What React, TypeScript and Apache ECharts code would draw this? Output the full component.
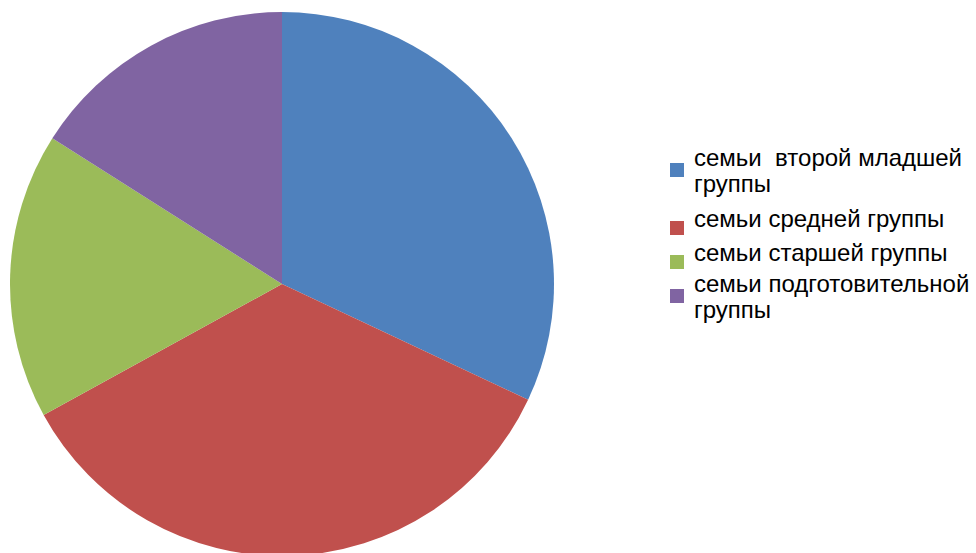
import React, { useEffect, useRef } from "react";
import * as echarts from "echarts";

const categories = [
  "семьи  второй младшей\nгруппы",
  "семьи средней группы",
  "семьи старшей группы",
  "семьи подготовительной\nгруппы",
];
const values = [32, 35, 17, 16];
const colors = ["#4F81BD", "#C0504D", "#9BBB59", "#8064A2"];

const legendTops = [144, 201, 235, 270];

export default function App() {
  const ref = useRef<HTMLDivElement>(null);
  useEffect(() => {
    document.body.style.margin = "0";
    const chart = echarts.init(ref.current!, null, { renderer: "svg" });
    const legends = categories.map((name, i) => {
      const multiLine = name.indexOf("\n") >= 0;
      return {
        orient: "vertical",
        left: 670,
        top: legendTops[i],
        padding: 0,
        itemWidth: 14,
        itemHeight: multiLine ? 14 : 34,
        icon: multiLine
          ? "rect"
          : "path://M0,0L0.01,0M0,20L14,20L14,34L0,34Z",
        itemStyle: { borderWidth: 0 },
        selectedMode: false,
        textStyle: {
          fontFamily: "Liberation Sans, Arial, sans-serif",
          fontSize: 24,
          lineHeight: 26,
          color: "#000000",
          padding: [0, 0, 0, 5],
        },
        data: [name],
      };
    });
    chart.setOption({
      animation: false,
      backgroundColor: "#ffffff",
      color: colors,
      legend: legends,
      series: [
        {
          type: "pie",
          center: [282, 284],
          radius: 272,
          startAngle: 90,
          clockwise: true,
          label: { show: false },
          labelLine: { show: false },
          emphasis: { disabled: true },
          data: categories.map((name, i) => ({ name, value: values[i] })),
        },
      ],
    });
    return () => chart.dispose();
  }, []);
  return <div ref={ref} style={{ width: 976, height: 553 }} />;
}
